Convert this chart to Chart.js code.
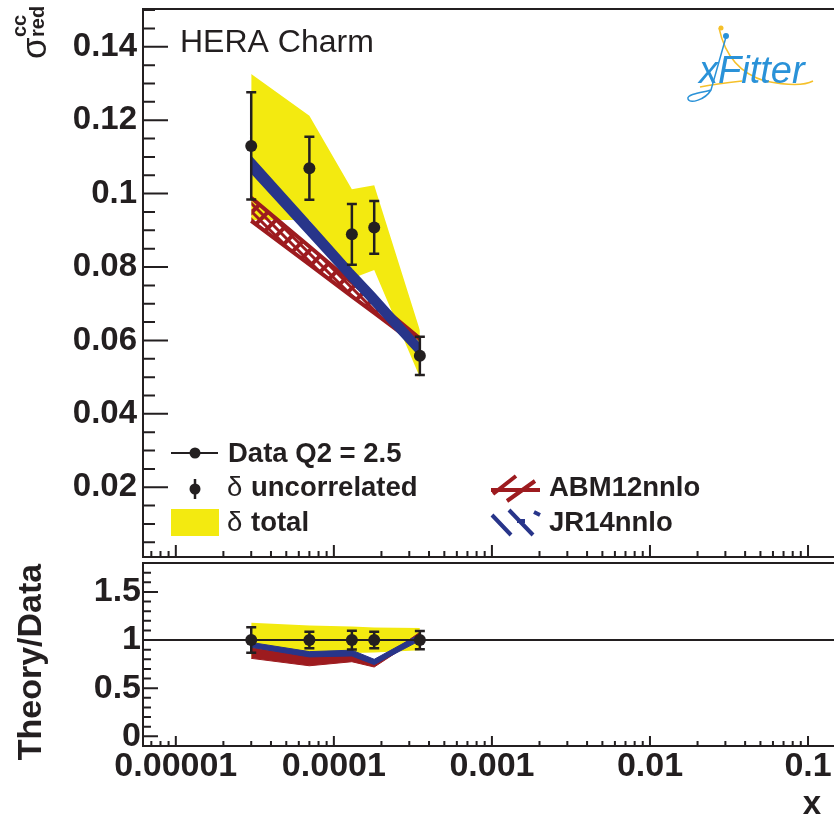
<!DOCTYPE html>
<html>
<head>
<meta charset="utf-8">
<script src="https://cdn.jsdelivr.net/npm/chart.js@4.4.1/dist/chart.umd.min.js"></script>
<style>
html, body { margin: 0; background: #fff; overflow: hidden; }
#wrap { position: relative; width: 834px; height: 816px; overflow: hidden; }
canvas { position: absolute; left: 0; }
</style>
</head>
<body>
<div id="wrap">
  <canvas id="topChart" width="834" height="560" style="top:0px;width:834px;height:560px"></canvas>
  <canvas id="ratioChart" width="834" height="260" style="top:556px;width:834px;height:260px"></canvas>
</div>
<script>
// HERA charm, Q2 = 2.5
var xVals       = [3e-5, 7e-5, 1.3e-4, 1.8e-4, 3.5e-4];
var sigmaData   = [0.1130, 0.1069, 0.0889, 0.0908, 0.0558];
var sigmaErrUnc = [0.0146, 0.0086, 0.0083, 0.0072, 0.0052];
var totalUp     = [0.1326, 0.1212, 0.1012, 0.1023, 0.0628];
var totalLo     = [0.0928, 0.0928, 0.0769, 0.0792, 0.0500];
var abmUp       = [0.0989, 0.0856, 0.0758, 0.0709, 0.0605];
var abmLo       = [0.0926, 0.0807, 0.0720, 0.0675, 0.0582];
var jrUp        = [0.1099, 0.0923, 0.0793, 0.0728, 0.0589];
var jrLo        = [0.1058, 0.0885, 0.0758, 0.0693, 0.0558];

// theory / data panel
var ratioData   = [1, 1, 1, 1, 1];
var ratioErr    = [0.132, 0.085, 0.097, 0.085, 0.095];
var ratioTotUp  = [1.18, 1.15, 1.14, 1.13, 1.125];
var ratioTotLo  = [0.82, 0.867, 0.865, 0.872, 0.895];
var ratioAbmUp  = [0.92, 0.83, 0.84, 0.75, 1.08];
var ratioAbmLo  = [0.81, 0.733, 0.775, 0.72, 1.03];
var ratioJrUp   = [0.975, 0.88, 0.895, 0.80, 1.06];
var ratioJrLo   = [0.925, 0.825, 0.835, 0.745, 0.995];

var yTicksTop   = [0.02, 0.04, 0.06, 0.08, 0.1, 0.12, 0.14];
var yTicksRatio = [0, 0.5, 1, 1.5];
var xTickLabels = [1e-5, 1e-4, 1e-3, 1e-2, 1e-1];

var ink = '#231f20';
var yellow = '#f3ea10';
var red = '#9d1b1f';
var blue = '#28358a';
var FONT = 'Liberation Sans';

function pts(arr){
    return xVals.map(function(x, i){ return {x: x, y: arr[i]}; });
}

// ROOT-like hatch: dense "\" stripes crossed by "/" bars
function hatch(){
    var c = document.createElement('canvas');
    c.width = 16; c.height = 16;
    var g = c.getContext('2d');
    g.strokeStyle = red;
    g.lineCap = 'square';
    g.lineWidth = 3;
    g.beginPath();
    for (var k = -2; k <= 2; k++){
        g.moveTo(k * 8 - 4, -4); g.lineTo(k * 8 + 20, 20);
    }
    g.stroke();
    g.lineWidth = 4;
    g.beginPath();
    g.moveTo(-4, 20); g.lineTo(20, -4);
    g.moveTo(-4, 4); g.lineTo(4, -4);
    g.moveTo(12, 20); g.lineTo(20, 12);
    g.stroke();
    return g.createPattern(c, 'repeat');
}

function fixSize(size, vertical){
    return function(s){
        if (vertical) s.width = size; else s.height = size;
        s.paddingTop = 0; s.paddingBottom = 0; s.paddingLeft = 0; s.paddingRight = 0;
    };
}

function band(label, up, lo, fillStyle, line, lw, order){
    return [
        {label: label, data: pts(up), fill: '+1', backgroundColor: fillStyle, borderColor: line, borderWidth: lw,
         pointRadius: 0, tension: 0, order: order},
        {label: label + ' lo', data: pts(lo), fill: false, borderColor: line, borderWidth: lw,
         pointRadius: 0, tension: 0, order: order}
    ];
}

// inward ticks + frame (left, top, bottom; the right edge lies outside the picture)
function drawFrame(chart, o){
    var ctx = chart.ctx, a = chart.chartArea, xs = chart.scales.x, ys = chart.scales.y;
    ctx.save();
    ctx.strokeStyle = ink;
    ctx.lineWidth = 2;
    ctx.beginPath();
    ctx.moveTo(a.right + 2, a.top); ctx.lineTo(a.left, a.top);
    ctx.lineTo(a.left, a.bottom); ctx.lineTo(a.right + 2, a.bottom);
    ctx.stroke();
    ctx.beginPath();
    for (var k = Math.ceil(ys.min / o.yMinor - 1e-6); k * o.yMinor <= ys.max + 1e-9; k++){
        var v = k * o.yMinor;
        var major = Math.abs(v / o.yMajor - Math.round(v / o.yMajor)) < 1e-6;
        var py = ys.getPixelForValue(v);
        ctx.moveTo(a.left, py);
        ctx.lineTo(a.left + (major ? o.yMajLen : o.yMinLen), py);
    }
    for (var d = -6; d <= 0; d++){
        for (var m = 1; m <= 9; m++){
            var xv = m * Math.pow(10, d);
            if (xv < xs.min || xv > xs.max) continue;
            var px = xs.getPixelForValue(xv);
            ctx.moveTo(px, a.bottom);
            ctx.lineTo(px, a.bottom - (m === 1 ? o.xMajLen : o.xMinLen));
        }
    }
    ctx.stroke();
    ctx.restore();
}

function drawErrors(chart, vals, errs){
    var ctx = chart.ctx, xs = chart.scales.x, ys = chart.scales.y;
    ctx.save();
    ctx.strokeStyle = ink;
    ctx.lineWidth = 2.5;
    ctx.beginPath();
    for (var i = 0; i < xVals.length; i++){
        var px = xs.getPixelForValue(xVals[i]);
        var y1 = ys.getPixelForValue(vals[i] + errs[i]);
        var y2 = ys.getPixelForValue(vals[i] - errs[i]);
        ctx.moveTo(px, y1); ctx.lineTo(px, y2);
        ctx.moveTo(px - 5, y1); ctx.lineTo(px + 5, y1);
        ctx.moveTo(px - 5, y2); ctx.lineTo(px + 5, y2);
    }
    ctx.stroke();
    ctx.restore();
}

function rotText(ctx, txt, x, y, font, align){
    ctx.save();
    ctx.translate(x, y);
    ctx.rotate(-Math.PI / 2);
    ctx.font = font;
    ctx.textAlign = align || 'left';
    ctx.textBaseline = 'alphabetic';
    ctx.fillText(txt, 0, 0);
    ctx.restore();
}

var topPlugin = {
    id: 'topDeco',
    beforeDatasetDraw: function(chart, args){
        if (args.index === 6) drawErrors(chart, sigmaData, sigmaErrUnc);
    },
    afterDraw: function(chart){
        var ctx = chart.ctx;
        drawFrame(chart, {yMinor: 0.005, yMajor: 0.02, yMajLen: 25, yMinLen: 12, xMajLen: 12, xMinLen: 6});
        ctx.save();
        ctx.fillStyle = ink;
        ctx.strokeStyle = ink;
        ctx.textBaseline = 'alphabetic';
        // title text
        ctx.font = '32px ' + FONT;
        ctx.fillText('HERA Charm', 180, 52);

        // y title
        rotText(ctx, 'σ', 46, 59, '35px ' + FONT);
        rotText(ctx, 'cc', 26, 37, 'bold 20px ' + FONT);
        rotText(ctx, 'red', 44, 37, 'bold 20px ' + FONT);

        // legend
        ctx.lineWidth = 2;
        ctx.beginPath(); ctx.moveTo(171, 453); ctx.lineTo(218, 453); ctx.stroke();
        ctx.beginPath(); ctx.arc(195, 453, 5.5, 0, Math.PI * 2); ctx.fill();
        ctx.lineWidth = 2.5;
        ctx.beginPath(); ctx.moveTo(195, 479); ctx.lineTo(195, 499); ctx.stroke();
        ctx.beginPath(); ctx.arc(195, 489, 5.5, 0, Math.PI * 2); ctx.fill();
        ctx.fillStyle = yellow;
        ctx.fillRect(171, 509, 48, 27);
        ctx.fillStyle = ink;
        ctx.font = 'bold 27.5px ' + FONT;
        ctx.fillText('Data Q2 = 2.5', 228, 462);
        ctx.font = '27.5px ' + FONT;
        ctx.fillText('δ', 227, 496);
        ctx.fillText('δ', 227, 531);
        ctx.font = 'bold 27.5px ' + FONT;
        ctx.fillText('uncorrelated', 251, 496);
        ctx.fillText('total', 251, 531);
        ctx.fillText('ABM12nnlo', 549, 496);
        ctx.fillText('JR14nnlo', 549, 531);

        ctx.lineWidth = 4;
        ctx.strokeStyle = red;
        ctx.beginPath();
        ctx.moveTo(491, 490); ctx.lineTo(540, 490);
        ctx.moveTo(493, 494); ctx.lineTo(516, 476);
        ctx.moveTo(507, 501); ctx.lineTo(535, 481);
        ctx.stroke();
        ctx.strokeStyle = blue;
        ctx.beginPath();
        ctx.moveTo(492, 515); ctx.lineTo(511, 535);
        ctx.moveTo(509, 510); ctx.lineTo(533, 535);
        ctx.moveTo(517, 521); ctx.lineTo(525, 521);
        ctx.moveTo(534, 512); ctx.lineTo(540, 515);
        ctx.stroke();

        // xFitter logo
        ctx.lineWidth = 1.5;
        ctx.strokeStyle = '#f5c02a';
        ctx.beginPath();
        ctx.moveTo(719, 28);
        ctx.quadraticCurveTo(728, 70, 765, 81);
        ctx.quadraticCurveTo(800, 88, 813, 81);
        ctx.moveTo(742, 81); ctx.quadraticCurveTo(715, 84, 700, 87);
        ctx.stroke();
        ctx.fillStyle = '#f5c02a';
        ctx.beginPath(); ctx.arc(721, 28, 2.5, 0, Math.PI * 2); ctx.fill();
        ctx.strokeStyle = '#2a92d8';
        ctx.beginPath();
        ctx.moveTo(726, 37); ctx.lineTo(711, 90);
        ctx.bezierCurveTo(705, 100, 690, 104, 688, 99);
        ctx.bezierCurveTo(686, 94, 705, 92, 711, 90);
        ctx.stroke();
        ctx.fillStyle = '#2a92d8';
        ctx.beginPath(); ctx.arc(726, 36, 3, 0, Math.PI * 2); ctx.fill();
        ctx.font = 'italic 38px ' + FONT;
        ctx.fillText('xFitter', 699, 83);
        ctx.restore();
    }
};

var ratioPlugin = {
    id: 'ratioDeco',
    beforeDatasetDraw: function(chart, args){
        if (args.index !== 6) return;
        var ctx = chart.ctx, a = chart.chartArea, py = chart.scales.y.getPixelForValue(1);
        ctx.save();
        ctx.strokeStyle = ink;
        ctx.lineWidth = 2;
        ctx.beginPath(); ctx.moveTo(a.left, py); ctx.lineTo(a.right, py); ctx.stroke();
        ctx.restore();
        drawErrors(chart, ratioData, ratioErr);
    },
    afterDraw: function(chart){
        var ctx = chart.ctx;
        drawFrame(chart, {yMinor: 0.1, yMajor: 0.5, yMajLen: 15, yMinLen: 8, xMajLen: 10, xMinLen: 5});
        ctx.save();
        ctx.fillStyle = ink;
        rotText(ctx, 'Theory/Data', 41, 106, 'bold 34px ' + FONT, 'center');
        ctx.font = 'bold 33px ' + FONT;
        ctx.textAlign = 'center';
        ctx.fillText('x', 812, 258);
        ctx.restore();
    }
};

var tickFont = function(size){ return {family: FONT, size: size, weight: 'bold'}; };

new Chart(document.getElementById('topChart'), {
    type: 'line',
    data: {
        datasets: [].concat(
            band('δ total', totalUp, totalLo, yellow, 'rgba(0,0,0,0)', 0, 6),
            band('ABM12nnlo', abmUp, abmLo, hatch(), red, 4, 4),
            band('JR14nnlo', jrUp, jrLo, blue, blue, 2, 2),
            [{label: 'Data Q2 = 2.5', data: pts(sigmaData), showLine: false, pointRadius: 6,
              pointBackgroundColor: ink, pointBorderWidth: 0, order: 0}]
        )
    },
    options: {
        responsive: false,
        animation: false,
        events: [],
        layout: {autoPadding: false, padding: {top: 9, left: 0, right: 0, bottom: 0}},
        plugins: {legend: {display: false}, tooltip: {enabled: false}},
        scales: {
            x: {
                type: 'logarithmic', min: 6.2e-6, max: 0.146,
                grid: {display: false, drawTicks: false, tickLength: 0},
                border: {display: false},
                ticks: {display: false},
                afterFit: fixSize(3, false)
            },
            y: {
                min: 0.001, max: 0.1503,
                grid: {display: false, drawTicks: false, tickLength: 0},
                border: {display: false},
                ticks: {font: tickFont(33), color: ink, padding: 6,
                        callback: function(v){ return String(Number(v.toFixed(3))); }},
                afterBuildTicks: function(s){ s.ticks = yTicksTop.map(function(v){ return {value: v}; }); },
                afterFit: fixSize(143, true)
            }
        }
    },
    plugins: [topPlugin]
});

new Chart(document.getElementById('ratioChart'), {
    type: 'line',
    data: {
        datasets: [].concat(
            band('δ total', ratioTotUp, ratioTotLo, yellow, 'rgba(0,0,0,0)', 0, 6),
            band('ABM12nnlo', ratioAbmUp, ratioAbmLo, red, red, 1, 4),
            band('JR14nnlo', ratioJrUp, ratioJrLo, blue, blue, 1, 2),
            [{label: 'Data', data: pts(ratioData), showLine: false, pointRadius: 6,
              pointBackgroundColor: ink, pointBorderWidth: 0, order: 0}]
        )
    },
    options: {
        responsive: false,
        animation: false,
        events: [],
        layout: {autoPadding: false, padding: {top: 7, left: 0, right: 0, bottom: 0}},
        plugins: {legend: {display: false}, tooltip: {enabled: false}},
        scales: {
            x: {
                type: 'logarithmic', min: 6.2e-6, max: 0.146,
                grid: {display: false, drawTicks: false, tickLength: 0},
                border: {display: false},
                ticks: {font: tickFont(34), color: ink, padding: 0, autoSkip: false, maxRotation: 0,
                        callback: function(v){ return String(v); }},
                afterBuildTicks: function(s){ s.ticks = xTickLabels.map(function(v){ return {value: v}; }); },
                afterFit: fixSize(70, false)
            },
            y: {
                min: -0.1, max: 1.8,
                grid: {display: false, drawTicks: false, tickLength: 0},
                border: {display: false},
                ticks: {font: tickFont(34), color: ink, padding: 2,
                        callback: function(v){ return String(v); }},
                afterBuildTicks: function(s){ s.ticks = yTicksRatio.map(function(v){ return {value: v}; }); },
                afterFit: fixSize(143, true)
            }
        }
    },
    plugins: [ratioPlugin]
});
</script>
</body>
</html>
